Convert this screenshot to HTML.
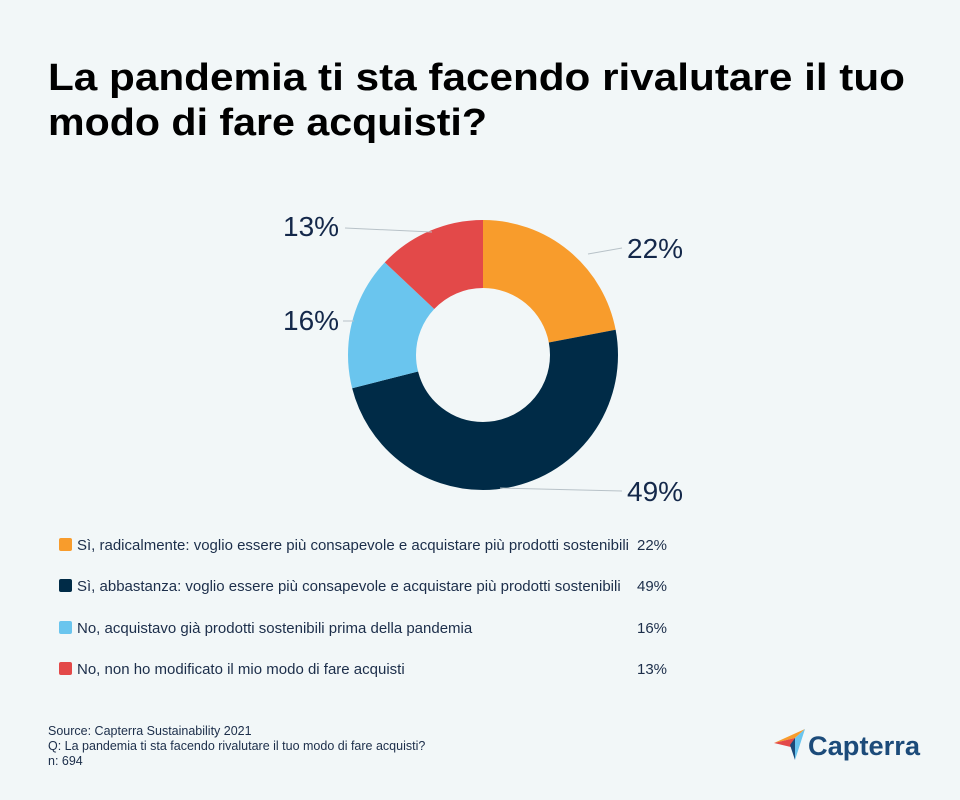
<!DOCTYPE html>
<html><head><meta charset="utf-8"><style>
html,body{margin:0;padding:0;background:#f2f7f8}
svg{display:block}
text{font-family:"Liberation Sans",sans-serif}
</style></head><body>
<svg width="960" height="800" viewBox="0 0 960 800" xmlns="http://www.w3.org/2000/svg">
<rect width="960" height="800" fill="#f2f7f8"/>
<text x="48" y="90" font-size="38" font-weight="bold" fill="#000" textLength="857" lengthAdjust="spacingAndGlyphs">La pandemia ti sta facendo rivalutare il tuo</text>
<text x="48" y="135" font-size="38" font-weight="bold" fill="#000" textLength="439" lengthAdjust="spacingAndGlyphs">modo di fare acquisti?</text>
<g transform="rotate(-90 483 355)" fill="none" stroke-width="68">
<circle cx="483" cy="355" r="101" stroke="#f89c2c" stroke-dasharray="139.6 634.6" stroke-dashoffset="0"/>
<circle cx="483" cy="355" r="101" stroke="#002b47" stroke-dasharray="311 634.6" stroke-dashoffset="-139.6"/>
<circle cx="483" cy="355" r="101" stroke="#6ac5ee" stroke-dasharray="101.5 634.6" stroke-dashoffset="-450.6"/>
<circle cx="483" cy="355" r="101" stroke="#e34949" stroke-dasharray="82.5 634.6" stroke-dashoffset="-552.1"/>
</g>
<g stroke="#b8c2c8" stroke-width="1">
<line x1="588" y1="254" x2="622" y2="248"/>
<line x1="500" y1="488" x2="622" y2="491"/>
<line x1="345" y1="228" x2="432" y2="232"/>
<line x1="343" y1="321" x2="354" y2="321"/>
</g>
<g font-size="28" fill="#14284a">
<text x="627" y="258">22%</text>
<text x="627" y="501">49%</text>
<text x="283" y="236">13%</text>
<text x="283" y="330">16%</text>
</g>
<g font-size="15" fill="#1c2e4a">
<rect x="59" y="538" width="13" height="13" rx="2" fill="#f89c2c"/>
<text x="77" y="550">Sì, radicalmente: voglio essere più consapevole e acquistare più prodotti sostenibili</text>
<text x="637" y="550">22%</text>
<rect x="59" y="579" width="13" height="13" rx="2" fill="#002b47"/>
<text x="77" y="591">Sì, abbastanza: voglio essere più consapevole e acquistare più prodotti sostenibili</text>
<text x="637" y="591">49%</text>
<rect x="59" y="621" width="13" height="13" rx="2" fill="#6ac5ee"/>
<text x="77" y="633">No, acquistavo già prodotti sostenibili prima della pandemia</text>
<text x="637" y="633">16%</text>
<rect x="59" y="662" width="13" height="13" rx="2" fill="#e34949"/>
<text x="77" y="674">No, non ho modificato il mio modo di fare acquisti</text>
<text x="637" y="674">13%</text>
</g>
<g font-size="12.5" fill="#1c2e4a">
<text x="48" y="735">Source: Capterra Sustainability 2021</text>
<text x="48" y="750">Q: La pandemia ti sta facendo rivalutare il tuo modo di fare acquisti?</text>
<text x="48" y="765">n: 694</text>
</g>
<polygon points="774,743 795,738 805,729" fill="#f89c2c"/>
<polygon points="795,738 805,729 795,760" fill="#6ac5ee"/>
<polygon points="774,743 795,738 795,748" fill="#e34949"/>
<polygon points="795,738 795,760 790,745" fill="#1c4b7a"/>
<text x="808" y="755" font-size="27" font-weight="bold" fill="#1c4b7a" textLength="112" lengthAdjust="spacingAndGlyphs">Capterra</text>
</svg>
</body></html>
